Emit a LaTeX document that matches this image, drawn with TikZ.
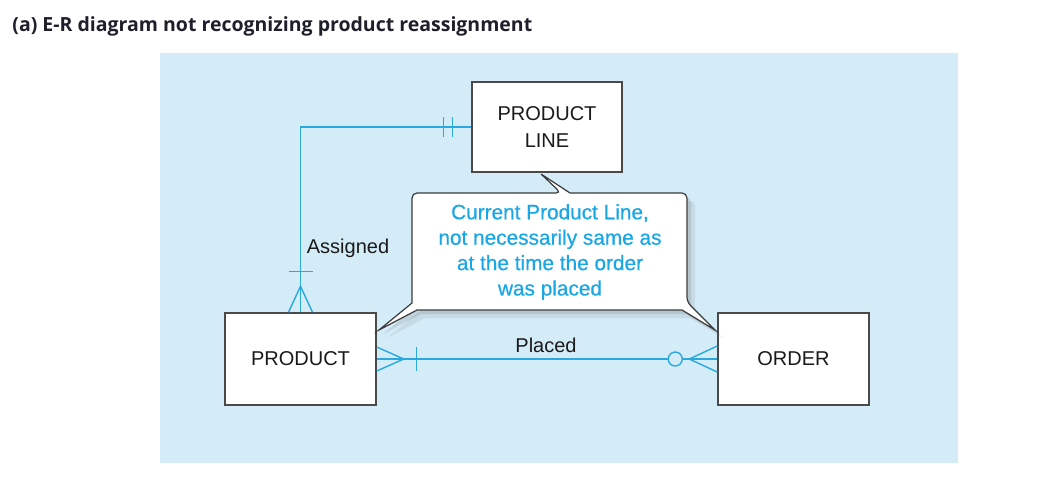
\documentclass[tikz,border=0pt]{standalone}
\usepackage{fontspec}
\setmainfont{Liberation Sans}
\newfontfamily\titlefont{Open Sans}
\newfontfamily\notefont[FakeBold=0.6]{Liberation Sans}
\usetikzlibrary{calc,shadows}
\definecolor{ErPanel}{HTML}{D4ECF8}
\definecolor{ErLine}{HTML}{29A9E0}
\definecolor{ErInk}{HTML}{1A1A1A}
\definecolor{ErBorder}{HTML}{4A4A4A}
\definecolor{ErNote}{HTML}{1AA7E6}
\definecolor{ErTitle}{HTML}{1F1F2B}
\tikzset{
  every node/.style={text=ErInk, font=\fontsize{10}{12.8}\selectfont},
  entity/.style={draw=ErBorder, line width=0.75pt, fill=white, align=center,
    minimum width=75.5pt, minimum height=46pt, inner sep=0pt},
  rel/.style={draw=ErLine, line width=0.7pt},
  callout/.style={draw=ErBorder!80!black, line width=0.6pt, fill=white,
    drop shadow={shadow xshift=4pt, shadow yshift=-4pt, opacity=.12, fill=black!60},
    drop shadow={shadow xshift=2pt, shadow yshift=-2pt, opacity=.18, fill=black!60}},
  notetext/.style={text=ErNote, align=center, font=\notefont\fontsize{10.4}{12.7}\selectfont},
}
\begin{document}
\begin{tikzpicture}[x=0.5pt, y=-0.5pt]
  \useasboundingbox (0,0) rectangle (1063,478);
  % Title
  \node[anchor=west, inner sep=0pt, text=ErTitle, font=\titlefont\bfseries\fontsize{9.75}{12}\selectfont]
    (title) at (12,26) {(a) E-R diagram not recognizing product reassignment};
  % Panel
  \fill[ErPanel] (160,53) rectangle (958,463);
  % Entities
  \node[entity, minimum width=75pt, minimum height=45pt] (pline) at (547,127) {PRODUCT\\[0.6pt]LINE};
  \node[entity] (product) at (300.5,359) {PRODUCT};
  \node[entity] (order) at (793.5,359) {ORDER};
  % Assigned: PRODUCT to PRODUCT LINE
  \draw[rel] (product.north) |- (pline.west);
  \foreach \dx in {-12,0,12}
    \draw[rel] ($(product.north)+(0,-26)$) -- ($(product.north)+(\dx,0)$);
  \draw[rel] ($(product.north)+(-12,-41)$) -- ++(24,0);
  \foreach \dx in {-28,-19}
    \draw[rel] ($(pline.west)+(\dx,-10)$) -- ++(0,20);
  \node (assigned) at (348,248) {Assigned};
  % Placed: PRODUCT to ORDER
  \draw[rel] (product.east) -- (order.west);
  \foreach \dy in {-12,0,12}
    \draw[rel] ($(product.east)+(27,0)$) -- ($(product.east)+(0,\dy)$);
  \draw[rel] ($(product.east)+(40,-12)$) -- ++(0,24);
  \foreach \dy in {-13,0,13}
    \draw[rel] ($(order.west)+(-28,0)$) -- ($(order.west)+(0,\dy)$);
  \draw[rel, fill=ErPanel] ($(order.west)+(-42,0)$) circle[radius=7];
  \node (placed) at (546,345) {Placed};
  % Callout
  \path[callout] (412,250) [rounded corners=2.5pt] -- (412,193) -- (561,193)
    [sharp corners] -- (541,174) -- (570,193)
    [rounded corners=2.5pt] -- (687,193) -- (687,302)
    [sharp corners] -- (715,330) -- (682,310) -- (417,310) -- (379,330) -- (412,303) -- cycle;
  \node[notetext] (note) at (550,252)
    {Current Product Line,\\not necessarily same as\\at the time the order\\was placed};
\end{tikzpicture}
\end{document}
